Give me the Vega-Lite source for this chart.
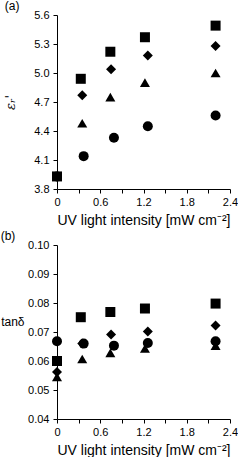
{
  "$schema": "https://vega.github.io/schema/vega-lite/v6.json",
  "background": "white",
  "padding": {"left": 0, "top": 0, "right": 0, "bottom": 0},
  "spacing": 3,
  "config": {
    "view": {"stroke": null},
    "font": "Liberation Sans",
    "axis": {
      "grid": false,
      "domainColor": "black",
      "tickColor": "black",
      "tickSize": 4,
      "labelFont": "Liberation Sans",
      "labelFontSize": 11,
      "labelColor": "black",
      "titleFont": "Liberation Sans",
      "titleFontSize": 14,
      "titleFontWeight": "normal",
      "titleColor": "black",
      "labelPadding": 3
    },
    "title": {"font": "Liberation Sans", "fontSize": 12, "fontWeight": "normal", "color": "black", "anchor": "start", "frame": "bounds"}
  },
  "datasets": {
    "a": [
      {"series": "S1", "x": 0, "y": 3.93},
      {"series": "S1", "x": 0.33, "y": 4.94},
      {"series": "S1", "x": 0.74, "y": 5.22},
      {"series": "S1", "x": 1.22, "y": 5.37},
      {"series": "S1", "x": 2.2, "y": 5.49},
      {"series": "S2", "x": 0, "y": 3.93},
      {"series": "S2", "x": 0.35, "y": 4.77},
      {"series": "S2", "x": 0.75, "y": 5.04},
      {"series": "S2", "x": 1.26, "y": 5.18},
      {"series": "S2", "x": 2.2, "y": 5.28},
      {"series": "S3", "x": 0, "y": 3.93},
      {"series": "S3", "x": 0.35, "y": 4.48},
      {"series": "S3", "x": 0.74, "y": 4.75},
      {"series": "S3", "x": 1.22, "y": 4.9},
      {"series": "S3", "x": 2.2, "y": 5.0},
      {"series": "S4", "x": 0, "y": 3.93},
      {"series": "S4", "x": 0.37, "y": 4.14},
      {"series": "S4", "x": 0.79, "y": 4.33},
      {"series": "S4", "x": 1.26, "y": 4.45},
      {"series": "S4", "x": 2.2, "y": 4.56}
    ],
    "b": [
      {"series": "S1", "x": 0, "y": 0.060},
      {"series": "S1", "x": 0.33, "y": 0.0751},
      {"series": "S1", "x": 0.74, "y": 0.0769},
      {"series": "S1", "x": 1.22, "y": 0.0781},
      {"series": "S1", "x": 2.2, "y": 0.0798},
      {"series": "S2", "x": 0, "y": 0.0562},
      {"series": "S2", "x": 0.35, "y": 0.066},
      {"series": "S2", "x": 0.75, "y": 0.0691},
      {"series": "S2", "x": 1.26, "y": 0.0702},
      {"series": "S2", "x": 2.2, "y": 0.0722},
      {"series": "S3", "x": 0, "y": 0.0545},
      {"series": "S3", "x": 0.35, "y": 0.0607},
      {"series": "S3", "x": 0.74, "y": 0.0628},
      {"series": "S3", "x": 1.22, "y": 0.0643},
      {"series": "S3", "x": 2.2, "y": 0.0653},
      {"series": "S4", "x": 0, "y": 0.0668},
      {"series": "S4", "x": 0.37, "y": 0.066},
      {"series": "S4", "x": 0.79, "y": 0.0653},
      {"series": "S4", "x": 1.26, "y": 0.0662},
      {"series": "S4", "x": 2.2, "y": 0.0668}
    ]
  },
  "vconcat": [
    {
      "title": {"text": "(a)", "dx": 0, "offset": -4},
      "width": 173,
      "height": 174,
      "data": {"name": "a"},
      "mark": {"type": "point", "filled": true, "opacity": 1, "size": 100, "color": "black"},
      "encoding": {
        "x": {
          "field": "x", "type": "quantitative",
          "scale": {"domain": [0, 2.4], "nice": false, "zero": false},
          "axis": {
            "title": "UV light intensity [mW cm⁻²]",
            "values": [0, 0.3, 0.6, 0.9, 1.2, 1.5, 1.8, 2.1, 2.4],
            "labelExpr": "round(datum.value*10) % 6 == 0 ? format(datum.value, '~g') : ''",
            "labelFlush": false,
            "labelOverlap": false,
            "titlePadding": 6
          }
        },
        "y": {
          "field": "y", "type": "quantitative",
          "scale": {"domain": [3.8, 5.6], "nice": false, "zero": false},
          "axis": {
            "title": "εᵣ'",
            "titleFontStyle": "italic",
            "titleFont": "DejaVu Serif",
            "titleFontSize": 13,
            "values": [3.8, 4.1, 4.4, 4.7, 5.0, 5.3, 5.6],
            "format": ".1f",
            "labelPadding": 4,
            "labelFlush": false,
            "labelOverlap": false,
            "titlePadding": 16
          }
        },
        "shape": {
          "field": "series", "type": "nominal",
          "scale": {"domain": ["S1", "S2", "S3", "S4"], "range": ["square", "diamond", "triangle-up", "circle"]},
          "legend": null
        }
      }
    },
    {
      "title": {"text": "(b)", "dx": 0, "offset": -4},
      "width": 173,
      "height": 174,
      "data": {"name": "b"},
      "mark": {"type": "point", "filled": true, "opacity": 1, "size": 100, "color": "black"},
      "encoding": {
        "x": {
          "field": "x", "type": "quantitative",
          "scale": {"domain": [0, 2.4], "nice": false, "zero": false},
          "axis": {
            "title": "UV light intensity [mW cm⁻²]",
            "values": [0, 0.3, 0.6, 0.9, 1.2, 1.5, 1.8, 2.1, 2.4],
            "labelExpr": "round(datum.value*10) % 6 == 0 ? format(datum.value, '~g') : ''",
            "labelFlush": false,
            "labelOverlap": false,
            "titlePadding": 6
          }
        },
        "y": {
          "field": "y", "type": "quantitative",
          "scale": {"domain": [0.04, 0.1], "nice": false, "zero": false},
          "axis": {
            "title": "tanδ",
            "titleAngle": 0,
            "titleAlign": "right",
            "titleBaseline": "middle",
            "titleFontSize": 12,
            "titleX": -33,
            "titleY": 76,
            "values": [0.04, 0.05, 0.06, 0.07, 0.08, 0.09, 0.1],
            "format": ".2f",
            "labelPadding": 4,
            "labelFlush": false,
            "labelOverlap": false
          }
        },
        "shape": {
          "field": "series", "type": "nominal",
          "scale": {"domain": ["S1", "S2", "S3", "S4"], "range": ["square", "diamond", "triangle-up", "circle"]},
          "legend": null
        }
      }
    }
  ]
}
